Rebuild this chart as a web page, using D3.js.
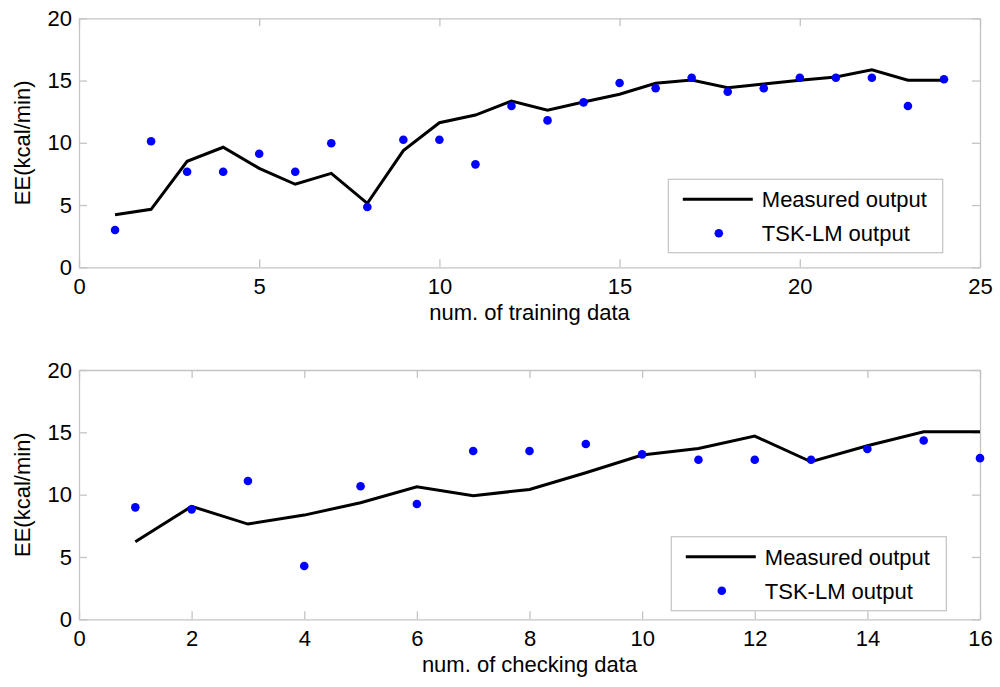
<!DOCTYPE html>
<html>
<head>
<meta charset="utf-8">
<script src="https://cdn.jsdelivr.net/npm/d3@7"></script>
<style>
  body { margin: 0; background: #fff; }
  svg text { font-family: "Liberation Sans", Arial, sans-serif; fill: #000; }
</style>
</head>
<body>
<div id="main-container"></div>
<script>
const WIDTH = 1000;
const HEIGHT = 687;
const FONT_SIZE = 22;
const BOX_COLOR = '#c4c4c4';
const LINE_COLOR = '#000';
const DOT_COLOR = '#0000ff';
const Y_LABEL = 'EE(kcal/min)';
const LEGEND_LABELS = ['Measured output', 'TSK-LM output'];

// training data (top panel)
const TRAIN_X = [1, 2, 3, 4, 5, 6, 7, 8, 9, 10, 11, 12, 13, 14, 15, 16, 17, 18, 19, 20, 21, 22, 23, 24];
const TRAIN_MEASURED = [4.22, 4.66, 8.51, 9.64, 7.95, 6.67, 7.55, 5.14, 9.37, 11.61, 12.23, 13.36,
  12.61, 13.28, 13.9, 14.78, 15.04, 14.43, 14.72, 15.02, 15.29, 15.87, 15.02, 15.02];
const TRAIN_TSK = [3.0, 10.12, 7.68, 7.68, 9.12, 7.68, 9.96, 4.84, 10.25, 10.25, 8.27, 12.96,
  11.8, 13.25, 14.8, 14.38, 15.23, 14.1, 14.38, 15.23, 15.23, 15.23, 12.96, 15.1];
const TRAIN_X_TICKS = [0, 5, 10, 15, 20, 25];

// checking data (bottom panel)
const CHECK_X = [1, 2, 3, 4, 5, 6, 7, 8, 9, 10, 11, 12, 13, 14, 15, 16];
const CHECK_MEASURED = [6.22, 9.06, 7.64, 8.36, 9.35, 10.63, 9.91, 10.42, 11.76, 13.18, 13.71, 14.7,
  12.64, 13.92, 15.04, 15.04];
const CHECK_TSK = [8.98, 8.82, 11.09, 4.27, 10.67, 9.25, 13.5, 13.5, 14.06, 13.23, 12.8, 12.8,
  12.8, 13.66, 14.35, 12.93];
const CHECK_X_TICKS = [0, 2, 4, 6, 8, 10, 12, 14, 16];

const Y_TICKS = [0, 5, 10, 15, 20];

const PANELS = [
  { x: TRAIN_X, measured: TRAIN_MEASURED, tsk: TRAIN_TSK, xMax: 25, xTicks: TRAIN_X_TICKS,
    xLabel: 'num. of training data', top: 18.3, bottom: 267.3,
    legend: { x: 668.3, y: 179.3, w: 274.4, h: 73.4 } },
  { x: CHECK_X, measured: CHECK_MEASURED, tsk: CHECK_TSK, xMax: 16, xTicks: CHECK_X_TICKS,
    xLabel: 'num. of checking data', top: 370, bottom: 619.3,
    legend: { x: 671.3, y: 536.7, w: 275, h: 74 } }
];

const LEFT = 79;
const RIGHT = 980;
const TICK_LEN = 8;

const SVG = d3.select('#main-container')
  .append('svg')
  .attr('width', WIDTH)
  .attr('height', HEIGHT);

PANELS.forEach(p => {
  const xScale = d3.scaleLinear().domain([0, p.xMax]).range([LEFT, RIGHT]);
  const yScale = d3.scaleLinear().domain([0, 20]).range([p.bottom, p.top]);
  const g = SVG.append('g');

  // axes box, ticks pointing inward
  const styleAxis = sel => {
    sel.select('.domain').attr('stroke', BOX_COLOR).attr('stroke-width', 1.3);
    sel.selectAll('.tick line').attr('stroke', BOX_COLOR).attr('stroke-width', 1.3);
    sel.selectAll('.tick text').style('font-size', FONT_SIZE + 'px')
      .style('font-family', '"Liberation Sans", Arial, sans-serif').attr('fill', '#000');
  };

  g.append('g')
    .attr('transform', `translate(0, ${p.bottom})`)
    .call(d3.axisBottom(xScale).tickValues(p.xTicks).tickSizeInner(-TICK_LEN).tickSizeOuter(0).tickPadding(11))
    .call(styleAxis);
  g.append('g')
    .attr('transform', `translate(0, ${p.top})`)
    .call(d3.axisTop(xScale).tickValues(p.xTicks).tickSizeInner(-TICK_LEN).tickSizeOuter(0).tickFormat(''))
    .call(styleAxis);
  g.append('g')
    .attr('transform', `translate(${LEFT}, 0)`)
    .call(d3.axisLeft(yScale).tickValues(Y_TICKS).tickSizeInner(-TICK_LEN).tickSizeOuter(0).tickPadding(7))
    .call(styleAxis);
  g.append('g')
    .attr('transform', `translate(${RIGHT}, 0)`)
    .call(d3.axisRight(yScale).tickValues(Y_TICKS).tickSizeInner(-TICK_LEN).tickSizeOuter(0).tickFormat(''))
    .call(styleAxis);

  // measured line
  const line = d3.line()
    .x((d, i) => xScale(p.x[i]))
    .y(d => yScale(d));
  g.append('path')
    .datum(p.measured)
    .attr('d', line)
    .attr('fill', 'none')
    .attr('stroke', LINE_COLOR)
    .attr('stroke-width', 3)
    .attr('stroke-linejoin', 'miter');

  // TSK-LM dots
  g.selectAll('circle.dot')
    .data(p.tsk)
    .enter()
    .append('circle')
    .attr('class', 'dot')
    .attr('cx', (d, i) => xScale(p.x[i]))
    .attr('cy', d => yScale(d))
    .attr('r', 4.3)
    .attr('fill', DOT_COLOR);

  // axis labels
  g.append('text')
    .attr('x', (LEFT + RIGHT) / 2)
    .attr('y', p.bottom + 52.5)
    .attr('text-anchor', 'middle')
    .style('font-size', FONT_SIZE + 'px')
    .text(p.xLabel);
  g.append('text')
    .attr('transform', `translate(29.5, ${(p.top + p.bottom) / 2}) rotate(-90)`)
    .attr('text-anchor', 'middle')
    .style('font-size', FONT_SIZE + 'px')
    .text(Y_LABEL);

  // legend
  const L = p.legend;
  const lg = g.append('g').attr('transform', `translate(${L.x}, ${L.y})`);
  lg.append('rect')
    .attr('width', L.w)
    .attr('height', L.h)
    .attr('fill', '#fff')
    .attr('stroke', BOX_COLOR)
    .attr('stroke-width', 1.2);
  lg.append('line')
    .attr('x1', 14.5).attr('x2', 84.5)
    .attr('y1', 20).attr('y2', 20)
    .attr('stroke', LINE_COLOR)
    .attr('stroke-width', 3);
  lg.append('circle')
    .attr('cx', 50.5).attr('cy', 54)
    .attr('r', 4.3)
    .attr('fill', DOT_COLOR);
  lg.selectAll('text')
    .data(LEGEND_LABELS)
    .enter()
    .append('text')
    .attr('x', 93.5)
    .attr('y', (_, i) => 20 + i * 34)
    .attr('dy', '0.36em')
    .style('font-size', FONT_SIZE + 'px')
    .text(d => d);
});
</script>
</body>
</html>
